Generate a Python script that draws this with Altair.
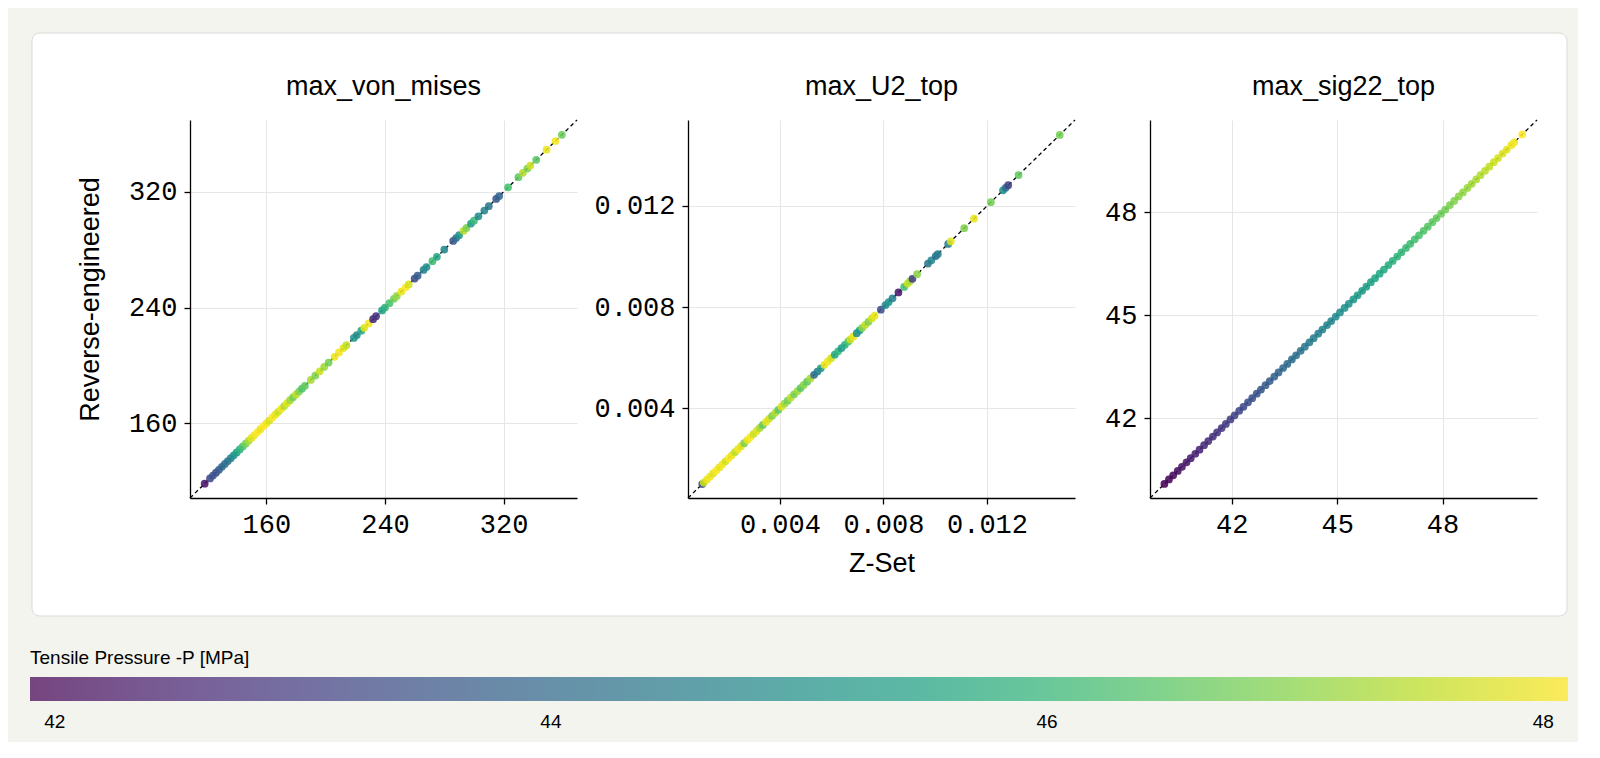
import altair as alt
import pandas as pd

# ---------------- data ----------------
titles = ["max_von_mises", "max_U2_top", "max_sig22_top"]

vm_zset = [118.4, 122, 124, 126, 128, 130, 132, 134, 136, 138, 140, 142, 144, 146, 148,
           150, 152, 154, 156, 158, 160, 162, 164, 166, 168, 170, 172, 174,
           176, 178, 180, 182, 184, 186, 190, 193, 196, 199, 202, 206, 209, 212, 214,
           219, 221, 224, 226, 229, 232, 234, 238, 240, 243, 246, 248, 251, 254, 256,
           260, 262, 266, 268, 272, 275, 280, 286, 288, 290, 293, 295, 298, 300, 303,
           307, 310, 315, 317, 323, 330, 333, 336, 338, 342, 349, 355, 359.3]
vm_rev = list(vm_zset)
vm_p = [42.2, 43.2, 43.5, 43.4, 43.7, 43.9, 44.1, 44.3, 44.6, 45.0, 45.4, 45.9, 46.3, 46.8, 47.3,
        47.8, 48.0, 48.1, 47.9, 48.1, 48.0, 47.7, 48.1, 47.9, 47.6, 48.0, 47.4, 47.8,
        47.2, 46.8, 47.5, 46.9, 46.4, 46.6, 47.3, 46.9, 47.6, 47.2, 46.8, 47.9, 48.0, 47.8, 47.5,
        45.2, 44.9, 45.6, 47.8, 48.0, 42.6, 42.8, 45.5, 45.9, 46.3, 46.8, 47.1, 47.9, 48.1, 47.7,
        43.3, 43.7, 44.6, 45.0, 46.2, 45.6, 44.8, 43.5, 44.2, 45.1, 47.4, 46.9, 45.3, 46.1, 44.9,
        44.7, 44.4, 43.6, 43.9, 46.3, 46.6, 47.4, 46.9, 47.6, 46.5, 47.9, 48.0, 46.7]

u2_zset = [0.00100, 0.00106, 0.00118, 0.00130, 0.00142, 0.00154, 0.00166, 0.00178, 0.00190,
           0.00202, 0.00214, 0.00226, 0.00238, 0.00250, 0.00262, 0.00274, 0.00286, 0.00298,
           0.00310, 0.00322, 0.00334, 0.00346, 0.00358, 0.00370, 0.00382, 0.00394, 0.00406,
           0.00418, 0.00430, 0.00442,
           0.00455, 0.00468, 0.00480, 0.00492, 0.00505, 0.00518,
           0.00532, 0.00545, 0.00558,
           0.00572, 0.00585, 0.00598,
           0.00612, 0.00625, 0.00638, 0.00651, 0.00664,
           0.00672, 0.00684,
           0.00697, 0.00708,
           0.00718, 0.00730, 0.00742, 0.00755, 0.00766,
           0.00790,
           0.00808, 0.00820, 0.00835,
           0.00858,
           0.00880, 0.00893, 0.00902,
           0.00912,
           0.00930,
           0.00972, 0.00985, 0.01002, 0.01010,
           0.01050, 0.01060, 0.01112, 0.01150, 0.01215,
           0.01262, 0.01272, 0.01282,
           0.01322, 0.01481]
u2_rev = list(u2_zset)
u2_p = [43.5, 47.6, 47.9, 48.0, 47.8, 48.1, 47.9, 48.0, 47.7, 48.1, 47.9, 47.5, 48.0, 47.8, 46.9,
        47.9, 48.1, 47.6, 47.8, 47.3, 46.6, 47.9, 47.7, 46.9, 47.4, 46.5, 47.8, 47.2, 46.8, 47.5,
        46.8, 47.2, 46.5, 47.0, 46.6, 47.3,
        44.0, 44.6, 45.2,
        47.9, 48.0, 47.7,
        45.6, 46.0, 45.3, 45.8, 46.4,
        47.6, 47.9,
        44.9, 45.3,
        47.0, 47.5, 46.9, 47.7, 47.9,
        43.4,
        44.8, 45.2, 44.5,
        42.3,
        46.2, 47.6, 47.3,
        43.0,
        47.0,
        44.3, 44.8, 44.1, 44.5,
        44.6, 47.8, 46.9, 47.9, 46.8,
        45.0, 44.2, 43.1,
        46.6, 46.8]

sig_zset = [40.08, 40.21, 40.33, 40.46, 40.58, 40.71, 40.83, 40.96, 41.08, 41.21, 41.33, 41.46,
            41.58, 41.71, 41.83, 41.96, 42.08, 42.21, 42.33, 42.46, 42.58, 42.71, 42.83, 42.96,
            43.08, 43.21, 43.33, 43.46, 43.58, 43.71, 43.83, 43.96, 44.08, 44.21, 44.33, 44.46,
            44.58, 44.71, 44.83, 44.96, 45.08, 45.21, 45.33, 45.46, 45.58, 45.71, 45.83, 45.96,
            46.08, 46.21, 46.33, 46.46, 46.58, 46.71, 46.83, 46.96, 47.08, 47.21, 47.33, 47.46,
            47.58, 47.71, 47.83, 47.96, 48.08, 48.21, 48.33, 48.46, 48.58, 48.71, 48.83, 48.96,
            49.08, 49.21, 49.33, 49.46, 49.58, 49.71, 49.83, 49.96, 50.04, 50.27]
sig_rev = list(sig_zset)
sig_p = [41.90, 41.98, 42.05, 42.13, 42.21, 42.28, 42.36, 42.44, 42.51, 42.59, 42.66, 42.74,
         42.82, 42.89, 42.97, 43.05, 43.12, 43.20, 43.27, 43.35, 43.43, 43.50, 43.58, 43.66,
         43.73, 43.81, 43.88, 43.96, 44.04, 44.11, 44.19, 44.27, 44.34, 44.42, 44.49, 44.57,
         44.65, 44.72, 44.80, 44.88, 44.95, 45.03, 45.10, 45.18, 45.26, 45.33, 45.41, 45.49,
         45.56, 45.64, 45.71, 45.79, 45.87, 45.94, 46.02, 46.10, 46.17, 46.25, 46.32, 46.40,
         46.48, 46.55, 46.63, 46.71, 46.78, 46.86, 46.93, 47.01, 47.09, 47.16, 47.24, 47.32,
         47.39, 47.47, 47.54, 47.62, 47.70, 47.77, 47.85, 47.93, 47.98, 48.10]

domains = [[108.5, 369.5], [0.00045, 0.01540], [39.67, 50.69]]
ticks = [[160, 240, 320], [0.004, 0.008, 0.012], [42, 45, 48]]
formats = ["d", ".3f", "d"]
color_domain = [41.9, 48.1]
legend_values = [42, 44, 46, 48]

# ---------------- chart ----------------
PW, PH = 387, 378
one = pd.DataFrame({"k": [0]})

legend = alt.Legend(
    orient="none", legendX=-122, legendY=529, direction="horizontal",
    gradientLength=1538, gradientThickness=24, gradientStrokeWidth=0,
    gradientOpacity=0.72, padding=0,
    title="Tensile Pressure -P [MPa]", titleFont="Liberation Sans", titleFontSize=19,
    titleFontWeight="normal", titleColor="black", titlePadding=9, titleLimit=600,
    labelFont="Liberation Sans", labelFontSize=19, labelColor="black", labelOffset=12,
    values=legend_values, format="d",
)


def panel(i, zs, rv, pp, xtitle, ytitle):
    df = pd.DataFrame({"z": zs, "r": rv, "p": pp})
    diag = pd.DataFrame({"z": domains[i], "r": domains[i]})
    sc = alt.Scale(domain=domains[i], nice=False, zero=False)
    xa = dict(values=ticks[i], format=formats[i])
    ya = dict(values=ticks[i], format=formats[i])
    if xtitle:
        xa.update(title=xtitle, titleY=65, titleBaseline="middle")
    else:
        xa.update(title=None)
    if ytitle:
        ya.update(title=ytitle, titleX=-100, titleY=179, titleBaseline="middle", titleAngle=270)
    else:
        ya.update(title=None)
    x = alt.X("z:Q", scale=sc, axis=alt.Axis(**xa))
    y = alt.Y("r:Q", scale=sc, axis=alt.Axis(**ya))
    line = alt.Chart(diag).mark_line(color="black", strokeWidth=1.3, strokeDash=[4, 3]).encode(x=x, y=y)
    pts = alt.Chart(df).mark_circle(size=60, opacity=0.88).encode(
        x=x, y=y,
        color=alt.Color("p:Q", scale=alt.Scale(scheme="viridis", domain=color_domain), legend=legend),
    )
    return alt.layer(line, pts).properties(
        width=PW, height=PH,
        title=alt.TitleParams(titles[i], font="Liberation Sans", fontSize=27, fontWeight="normal",
                              color="black", anchor="middle", frame="group", offset=24, dy=29,
                              baseline="alphabetic"),
    )


def spacer(w):
    return alt.Chart(one).mark_point(opacity=0).encode(x=alt.value(0), y=alt.value(0)).properties(width=w, height=1)


bg = alt.Chart(one).mark_rect(fill="white", stroke="#d9d9d9", strokeWidth=1, cornerRadius=8).encode(
    x=alt.value(-120), x2=alt.value(1415), y=alt.value(-87), y2=alt.value(496)
).properties(width=1, height=1)

p1 = panel(0, vm_zset, vm_rev, vm_p, None, "Reverse-engineered")
p2 = panel(1, u2_zset, u2_rev, u2_p, "Z-Set", None)
p3 = panel(2, sig_zset, sig_rev, sig_p, None, None)

chart = alt.hconcat(bg, p1, spacer(37), p2, spacer(1), p3, spacing=37, bounds="flush").resolve_scale(
    color="shared"
).resolve_legend(color="shared").properties(
    padding={"left": 22, "top": 24, "right": 10, "bottom": 10}
).configure(background="#f4f4ee").configure_view(strokeWidth=0).configure_axis(
    domainColor="black", domainWidth=1.3, tickColor="black", tickWidth=1.3, tickSize=6,
    gridColor="#e6e6e6", gridWidth=1, labelFont="Liberation Mono", labelFontSize=27,
    labelColor="black", labelPadding=7, titleFont="Liberation Sans", titleFontSize=27,
    titleFontWeight="normal", titleColor="black",
)

chart.save("out.html", embed_options={"renderer": "svg", "actions": False})
